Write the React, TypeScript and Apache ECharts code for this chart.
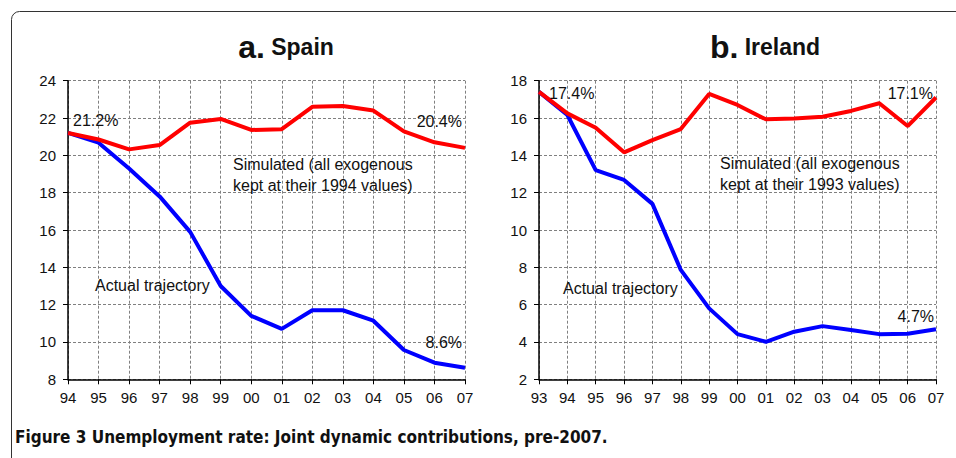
import React, { useEffect, useRef } from "react";
import * as echarts from "echarts";

const spainYears = ["94", "95", "96", "97", "98", "99", "00", "01", "02", "03", "04", "05", "06", "07"];
const spainSimulated = [21.2, 20.85, 20.32, 20.55, 21.75, 21.95, 21.36, 21.4, 22.6, 22.64, 22.4, 21.28, 20.7, 20.4];
const spainActual = [21.2, 20.68, 19.3, 17.8, 15.9, 13.0, 11.4, 10.7, 11.7, 11.7, 11.14, 9.57, 8.89, 8.62];

const irelandYears = ["93", "94", "95", "96", "97", "98", "99", "00", "01", "02", "03", "04", "05", "06", "07"];
const irelandSimulated = [17.4, 16.25, 15.48, 14.16, 14.82, 15.41, 17.29, 16.7, 15.93, 15.98, 16.07, 16.38, 16.79, 15.57, 17.1];
const irelandActual = [17.4, 16.16, 13.21, 12.68, 11.4, 7.86, 5.8, 4.42, 4.01, 4.55, 4.85, 4.64, 4.42, 4.44, 4.68];

const FONT = "Liberation Sans, Arial, sans-serif";

export default function App() {
  const ref = useRef<HTMLDivElement>(null);
  useEffect(() => {
    if (!ref.current) return;
    const chart = echarts.init(ref.current, null, { renderer: "svg" });
    const gridLine = { show: true, lineStyle: { color: "#808080", type: [3, 2] as any, width: 1 } };
    const xAxisBase = (data: string[], gi: number) => ({
      type: "category" as const,
      gridIndex: gi,
      data,
      boundaryGap: false,
      axisLine: { lineStyle: { color: "#000", width: 1.5 } },
      axisTick: { show: true, alignWithLabel: true, length: 5, lineStyle: { color: "#000" } },
      axisLabel: { color: "#111", fontSize: 15, fontFamily: FONT, margin: 11, interval: 0 },
      splitLine: gridLine,
    });
    const yAxisBase = (min: number, max: number, gi: number) => ({
      type: "value" as const,
      gridIndex: gi,
      min,
      max,
      interval: 2,
      axisLine: { show: true, lineStyle: { color: "#000", width: 1.5 } },
      axisTick: { show: true, length: 5, lineStyle: { color: "#000" } },
      axisLabel: { color: "#111", fontSize: 15, fontFamily: FONT, margin: 12 },
      splitLine: gridLine,
    });
    const line = (data: number[], color: string, xi: number) => ({
      type: "line" as const,
      xAxisIndex: xi,
      yAxisIndex: xi,
      data,
      symbol: "none",
      lineStyle: { color, width: 4 },
      z: color === "#ff0000" ? 3 : 2,
    });
    const txt = (x: number, y: number, text: string, align: string = "left") => ({
      type: "text" as const,
      x,
      y,
      z: 10,
      style: { text, fill: "#111", font: `16px ${FONT}`, textAlign: align, textVerticalAlign: "middle", lineHeight: 21 },
    });
    const titleRich = {
      a: { fontSize: 32, fontWeight: "bold", fontFamily: FONT, color: "#111" },
      b: { fontSize: 23, fontWeight: "bold", fontFamily: FONT, color: "#111" },
    };
    chart.setOption({
      animation: false,
      backgroundColor: "#fff",
      title: [
        { text: "{a|a.}{b| Spain}", left: 281, top: 26, textAlign: "center", textStyle: { rich: titleRich } },
        { text: "{a|b.}{b| Ireland}", left: 760, top: 26, textAlign: "center", textStyle: { rich: titleRich } },
      ],
      grid: [
        { left: 68, top: 80.7, width: 397, height: 298.6, containLabel: false },
        { left: 539, top: 80.7, width: 397, height: 298.6, containLabel: false },
      ],
      xAxis: [xAxisBase(spainYears, 0), xAxisBase(irelandYears, 1)],
      yAxis: [yAxisBase(8, 24, 0), yAxisBase(2, 18, 1)],
      series: [
        line(spainActual, "#0000ff", 0),
        line(spainSimulated, "#ff0000", 0),
        line(irelandActual, "#0000ff", 1),
        line(irelandSimulated, "#ff0000", 1),
      ],
      graphic: [
        { type: "rect", shape: { x: 11.5, y: 11.5, width: 1000, height: 500, r: 8 }, style: { fill: "none", stroke: "#333", lineWidth: 1 }, z: 0 },
        txt(73, 120, "21.2%"),
        txt(462, 121, "20.4%", "right"),
        txt(233, 175, "Simulated (all exogenous\nkept at their 1994 values)"),
        txt(95, 285, "Actual trajectory"),
        txt(462, 342, "8.6%", "right"),
        txt(549, 93, "17.4%"),
        txt(933, 93, "17.1%", "right"),
        txt(720, 174, "Simulated (all exogenous\nkept at their 1993 values)"),
        txt(563, 288, "Actual trajectory"),
        txt(934, 316, "4.7%", "right"),
        {
          type: "text",
          x: 15,
          y: 437,
          z: 10,
          style: { text: "Figure 3 Unemployment rate: Joint dynamic contributions, pre-2007.", fill: "#111", font: "bold 17px DejaVu Sans Condensed, sans-serif", textVerticalAlign: "middle" },
        },
      ],
    });
    return () => chart.dispose();
  }, []);
  return <div ref={ref} style={{ position: "fixed", left: 0, top: 0, width: 956, height: 458 }} />;
}
